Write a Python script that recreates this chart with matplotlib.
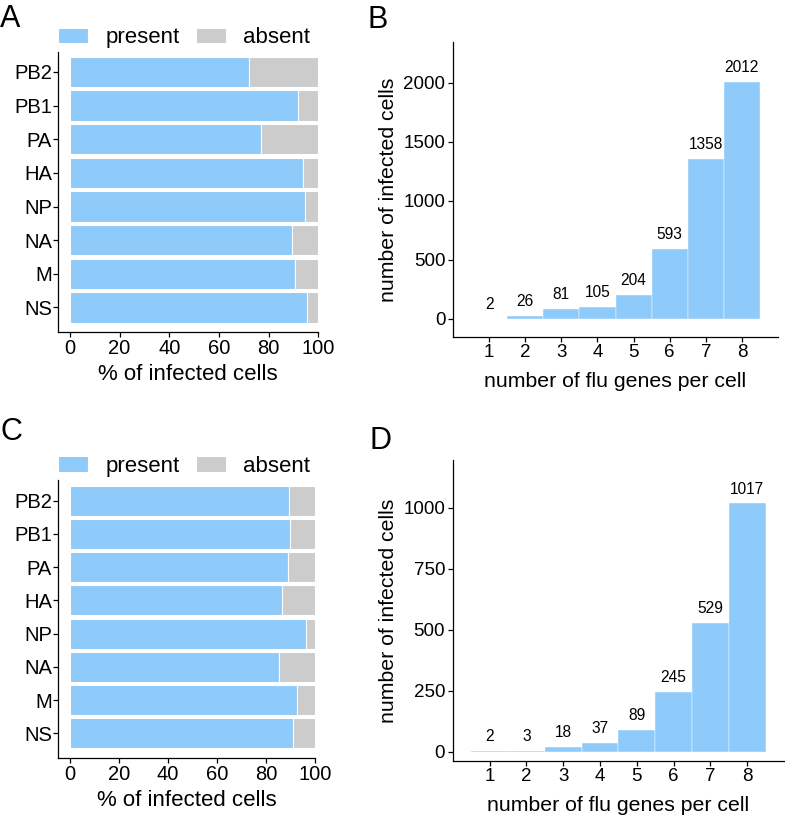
import matplotlib
matplotlib.use('Agg')
import matplotlib.pyplot as plt
import numpy as np

plt.rcParams['font.family'] = ['Liberation Sans', 'DejaVu Sans']

genes = ['PB2', 'PB1', 'PA', 'HA', 'NP', 'NA', 'M', 'NS']
present_a = [72.2, 91.9, 76.9, 93.7, 94.6, 89.4, 90.6, 95.6]
present_c = [89.6, 89.7, 88.9, 86.6, 96.3, 85.3, 92.7, 91.2]

n_genes = [1, 2, 3, 4, 5, 6, 7, 8]
counts_b = [2, 26, 81, 105, 204, 593, 1358, 2012]
counts_d = [2, 3, 18, 37, 89, 245, 529, 1017]

blue = '#8FCBFA'
grey = '#CCCCCC'

W, H = 785, 821
fig = plt.figure(figsize=(W / 100, H / 100), dpi=100)


def ax_px(left, right, top, bottom):
    return fig.add_axes([left / W, 1 - bottom / H, (right - left) / W, (bottom - top) / H])


def style(ax, size):
    for s in ['top', 'right']:
        ax.spines[s].set_visible(False)
    for s in ['left', 'bottom']:
        ax.spines[s].set_linewidth(0.9)
    ax.tick_params(length=3.5, width=0.9, labelsize=size, pad=2)


def gene_panel(ax, present, ylo, yhi):
    pos = np.arange(len(genes))[::-1]
    present = np.array(present)
    absent = 100 - present
    h1 = ax.barh(pos, present, height=0.9, color=blue, edgecolor='white', linewidth=0.8, label='present')
    h2 = ax.barh(pos, absent, left=present, height=0.9, color=grey, edgecolor='white', linewidth=0.8, label='absent')
    ax.set_yticks(pos)
    ax.set_yticklabels(genes)
    ax.set_ylim(ylo, yhi)
    ax.set_xlim(-4.8, 100)
    ax.set_xticks([0, 20, 40, 60, 80, 100])
    style(ax, 14.5)
    ax.tick_params(axis='y', pad=1)
    ax.set_xlabel('% of infected cells', fontsize=16, labelpad=4)
    ax.legend(handles=[h1, h2], ncol=2, loc='lower left', bbox_to_anchor=(-0.024, 0.988),
              frameon=False, fontsize=16, handlelength=1.35, handleheight=0.68,
              handletextpad=0.75, columnspacing=0.75, borderpad=0, borderaxespad=0.3)


def count_panel(ax, counts, ylo, yhi, yticks):
    ax.bar(n_genes, counts, width=1.0, color=blue, edgecolor='white', linewidth=0.3)
    for x, c in zip(n_genes, counts):
        ax.annotate(str(c), (x, c), xytext=(0, 5), textcoords='offset points',
                    ha='center', va='bottom', fontsize=11.2)
    ax.set_xlim(0, 9)
    ax.set_ylim(ylo, yhi)
    ax.set_xticks(n_genes)
    ax.set_yticks(yticks)
    style(ax, 13.5)
    ax.set_xlabel('number of flu genes per cell', fontsize=15.3, labelpad=8)
    ax.set_ylabel('number of infected cells', fontsize=15.3, labelpad=4)


ax_a = ax_px(58, 318.3, 51.7, 331.7)
gene_panel(ax_a, present_a, -0.72, 7.6)

ax_c = ax_px(58, 315, 480, 757.7)
gene_panel(ax_c, present_c, -0.73, 7.62)

ax_b = ax_px(453, 778, 42, 336.7)
count_panel(ax_b, counts_b, -150, 2347, [0, 500, 1000, 1500, 2000])

ax_d = ax_px(452.7, 784, 460, 760.7)
count_panel(ax_d, counts_d, -37, 1195, [0, 250, 500, 750, 1000])

for lab, x, y in [('A', 0, 27), ('B', 368, 28), ('C', 0, 440), ('D', 370, 449)]:
    fig.text(x / W, 1 - y / H, lab, fontsize=22, va='baseline', ha='left')

fig.savefig('out.png', dpi=100)
